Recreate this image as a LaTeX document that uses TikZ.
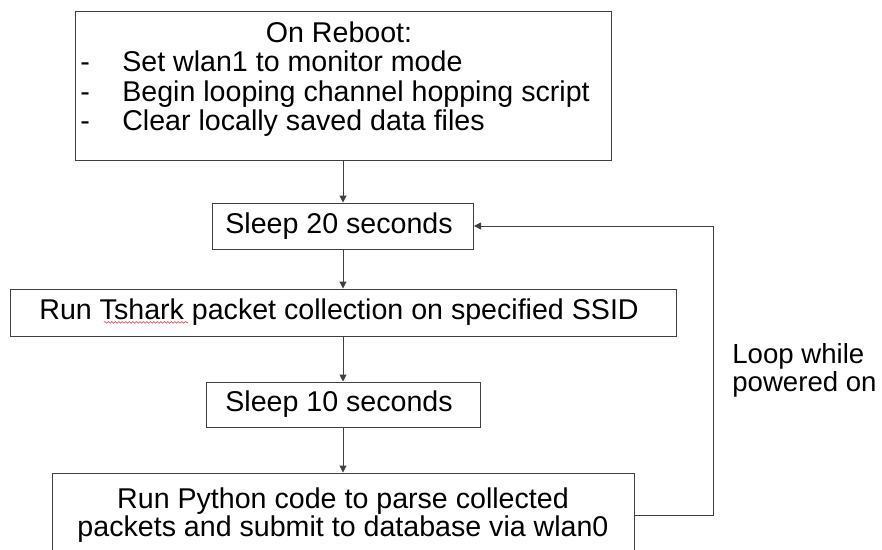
\documentclass[tikz,border=0pt]{standalone}
\usepackage{fontspec}
\setmainfont{Liberation Sans}
\usepackage{tikz}
\usepackage{xcolor}
\usetikzlibrary{arrows.meta,positioning,decorations.pathmorphing}
\definecolor{lineGray}{HTML}{404040}
\definecolor{spellRed}{HTML}{E0606A}
\newlength{\runwidth}
\newlength{\wordwidth}
\newlength{\tsharkwidth}
\newcommand{\boxfont}{\fontsize{28.6pt}{28.5pt}\selectfont}

\begin{document}
% widths for the spell-check underline
\settowidth{\runwidth}{\boxfont Run\ }%
\settowidth{\wordwidth}{\boxfont Tshark}%
\settowidth{\tsharkwidth}{\boxfont Run Tshark packet collection on specified SSID}%
\begin{tikzpicture}[
        box/.style={
          draw=lineGray,
          line width=1pt,
          inner sep=2pt,
          align=center,
          font=\boxfont
        },
        arrow/.style={
          -{Triangle[length=7pt,width=7pt]},
          line width=1pt,
          lineGray
        },
        spell/.style={
          draw=spellRed,
          line width=0.7pt,
          decorate,
          decoration={snake, amplitude=0.9pt, segment length=3.5pt}
        }
      ]

      \useasboundingbox (0,0) rectangle (882pt,-549pt);

      \node[box, minimum width=536pt, minimum height=149pt] (reboot) at (343pt,-85.5pt) {
        \begin{tabular}{@{}l@{}l@{\hspace{8pt}}}
          \multicolumn{2}{c}{On Reboot:\hspace{14pt}}\\
          \makebox[42pt][l]{-} & Set wlan1 to monitor mode\\
          \makebox[42pt][l]{-} & Begin looping channel hopping script\\
          \makebox[42pt][l]{-} & Clear locally saved data files\\[10pt]
        \end{tabular}
      };

      \node[box, minimum width=261pt, minimum height=46pt, below=42pt of reboot] (sleepA) {
        Sleep 20 seconds
      };

      \node[box, minimum width=666pt, minimum height=47pt, below=39pt of sleepA] (tshark) {
        Run Tshark packet collection on specified SSID
      };

      \node[box, minimum width=274pt, minimum height=45pt, below=45pt of tshark] (sleepB) {
        Sleep 10 seconds
      };

      \node[box, minimum width=582pt, minimum height=84pt, below=45pt of sleepB,
            font=\fontsize{28.6pt}{26pt}\selectfont] (python) {
        Run Python code to parse collected\\
        packets and submit to database via wlan0
      };

      \coordinate (waveL) at ([xshift=-0.5\tsharkwidth+\runwidth, yshift=-2.5pt]tshark.base);
      \coordinate (waveR) at ([xshift=\wordwidth]waveL);
      \path[spell] (waveL) -- (waveR);

      \coordinate (bend) at ([xshift=79pt]python.east);

      \draw[arrow] (reboot) -- (sleepA);
      \draw[arrow] (sleepA) -- (tshark);
      \draw[arrow] (tshark) -- (sleepB);
      \draw[arrow] (sleepB) -- (python);
      \draw[arrow] (python.east) -- (bend) |- node[pos=0.25, right=15pt, align=left, text=black,
            font=\fontsize{27.6pt}{28pt}\selectfont] (looplabel) {Loop while\\powered on} (sleepA.east);

      \end{tikzpicture}
\end{document}
